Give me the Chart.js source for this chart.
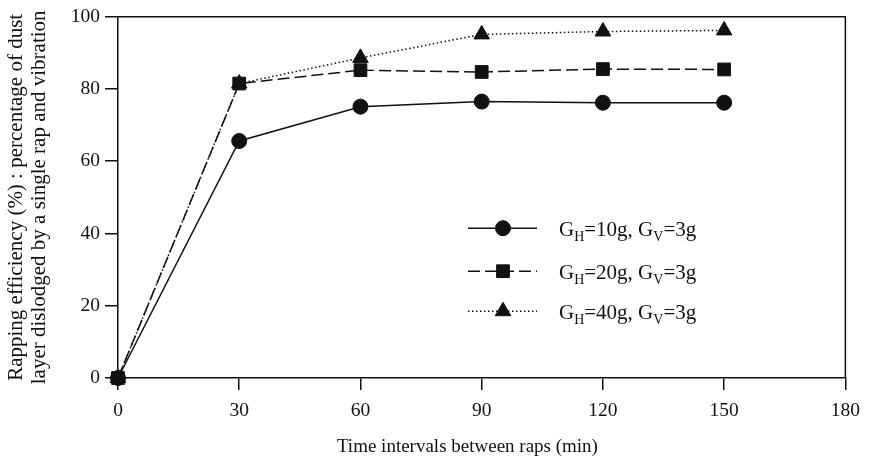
<!DOCTYPE html>
<html><head><meta charset="utf-8">
<script src="https://cdn.jsdelivr.net/npm/chart.js@4"></script>
<style>html,body{margin:0;padding:0;background:#fff;overflow:hidden}#wrap{width:869px;height:468px}</style>
</head><body><div id="wrap"><canvas id="c" width="869" height="468"></canvas></div>
<script>
const timeMin = [0, 30, 60, 90, 120, 150];
const gh10 = [0, 65.6, 75.1, 76.5, 76.2, 76.2];
const gh20 = [0, 81.5, 85.2, 84.7, 85.5, 85.4];
const gh40 = [0, 81.5, 88.6, 95.1, 95.9, 96.2];
const seriesLabels = ["G_H=10g, G_V=3g", "G_H=20g, G_V=3g", "G_H=40g, G_V=3g"];
const xTicks = [0, 30, 60, 90, 120, 150, 180];
const yTicks = [0, 20, 40, 60, 80, 100];
const xTitle = "Time intervals between raps (min)";
const yTitle = ["Rapping efficiency (%) : percentage of dust", "layer dislodged by a single rap and vibration"];

const FONT = "'Liberation Serif', 'Times New Roman', serif";
const INK = '#111';

function pts(ys) { return timeMin.map((x, i) => ({ x: x, y: ys[i] })); }

function drawMarker(ctx, style, r, x, y) {
  ctx.save();
  ctx.fillStyle = INK; ctx.strokeStyle = INK; ctx.lineWidth = 1; ctx.setLineDash([]);
  ctx.beginPath();
  if (style === 'circle') {
    ctx.arc(x, y, r, 0, Math.PI * 2);
  } else if (style === 'rect') {
    const s = r * Math.SQRT1_2;
    ctx.rect(x - s, y - s, 2 * s, 2 * s);
  } else if (style === 'triangle') {
    let rad = 0;
    ctx.moveTo(x + Math.sin(rad) * r, y - Math.cos(rad) * r);
    rad += 2 * Math.PI / 3;
    ctx.lineTo(x + Math.sin(rad) * r, y - Math.cos(rad) * r);
    rad += 2 * Math.PI / 3;
    ctx.lineTo(x + Math.sin(rad) * r, y - Math.cos(rad) * r);
    ctx.closePath();
  }
  ctx.fill(); ctx.stroke();
  ctx.restore();
}

const framePlugin = {
  id: 'frame',
  beforeDatasetsDraw(chart) {
    const { ctx, chartArea: a } = chart;
    ctx.save();
    ctx.strokeStyle = INK; ctx.lineWidth = 1.5;
    ctx.beginPath();
    ctx.moveTo(a.left, a.top);
    ctx.lineTo(a.right, a.top);
    ctx.lineTo(a.right, a.bottom);
    ctx.stroke();
    ctx.restore();
  }
};

const legendPlugin = {
  id: 'subLegend',
  afterDraw(chart) {
    const ctx = chart.ctx;
    const a = chart.chartArea;
    const x0 = a.left + 350, x1 = a.left + 419, mx = a.left + 385, tx = a.left + 441;
    const rows = [a.top + 211.5, a.top + 254.5, a.top + 294.5];
    chart.data.datasets.forEach((ds, i) => {
      const y = rows[i];
      ctx.save();
      ctx.strokeStyle = INK; ctx.lineWidth = ds.borderWidth;
      ctx.setLineDash(ds.borderDash || []);
      ctx.beginPath(); ctx.moveTo(x0, y); ctx.lineTo(x1, y); ctx.stroke();
      ctx.restore();
      drawMarker(ctx, ds.pointStyle, ds.pointRadius, mx, y);
      const parts = seriesLabels[i].split(/_(.)/);
      let x = tx;
      ctx.save();
      ctx.fillStyle = INK; ctx.textBaseline = 'alphabetic'; ctx.textAlign = 'left';
      parts.forEach((p, k) => {
        if (k % 2 === 1) {
          ctx.font = "14px " + FONT;
          ctx.fillText(p, x, y + 13);
        } else {
          ctx.font = "21px " + FONT;
          ctx.fillText(p, x, y + 7.5);
        }
        x += ctx.measureText(p).width;
      });
      ctx.restore();
    });
  }
};

const mk = (i, ys, style, r, dash, order) => ({
  label: seriesLabels[i].replace(/_/g, ''),
  data: pts(ys),
  borderColor: INK, backgroundColor: INK,
  borderWidth: 1.5, borderDash: dash,
  pointStyle: style, pointRadius: r, pointHoverRadius: r,
  pointBackgroundColor: INK, pointBorderColor: INK, pointBorderWidth: 1,
  tension: 0, fill: false, clip: false, order: order
});

new Chart(document.getElementById('c'), {
  type: 'line',
  data: {
    datasets: [
      mk(0, gh10, 'circle', 7.5, [], 1),
      mk(1, gh20, 'rect', 9, [12, 5], 0),
      mk(2, gh40, 'triangle', 9, [1.5, 2.5], 2)
    ]
  },
  options: {
    responsive: false, animation: false,
    layout: { padding: { left: 0, top: 14.5, right: 23, bottom: 0 } },
    plugins: { legend: { display: false }, tooltip: { enabled: false } },
    scales: {
      x: {
        type: 'linear', min: 0, max: 180,
        afterBuildTicks(s) { s.ticks = xTicks.map(v => ({ value: v })); },
        afterFit(s) { s.height = 90; },
        ticks: { color: INK, font: { family: FONT, size: 19.5 }, padding: 9, maxRotation: 0, autoSkip: false },
        grid: { display: true, drawOnChartArea: false, drawTicks: true, tickLength: 12, color: INK, lineWidth: 1.5 },
        border: { display: true, color: INK, width: 1.5 },
        title: { display: true, text: xTitle + '      ', color: INK, font: { family: FONT, size: 19, lineHeight: 1.2 }, padding: { top: 0, bottom: 9.5 } }
      },
      y: {
        type: 'linear', min: 0, max: 100,
        afterBuildTicks(s) { s.ticks = yTicks.map(v => ({ value: v })); },
        afterFit(s) { s.width = 118; },
        ticks: { color: INK, font: { family: FONT, size: 19.5 }, padding: 5 },
        grid: { display: true, drawOnChartArea: false, drawTicks: true, tickLength: 13, color: INK, lineWidth: 1.5 },
        border: { display: true, color: INK, width: 1.5 },
        title: { display: true, text: yTitle, color: INK, font: { family: FONT, size: 21, lineHeight: 1.1 }, padding: { top: 4.5, bottom: 0 } }
      }
    }
  },
  plugins: [framePlugin, legendPlugin]
});
</script>
</body></html>
